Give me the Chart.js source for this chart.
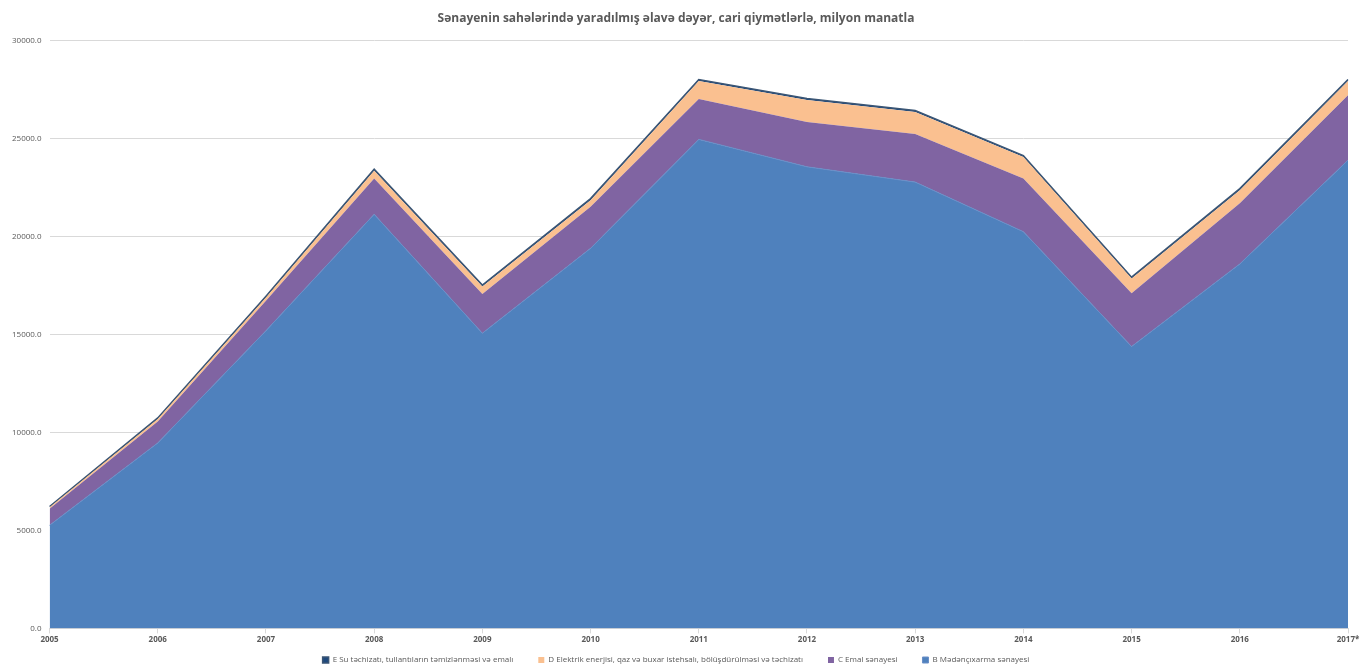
<!DOCTYPE html>
<html>
<head>
<meta charset="utf-8">
<script src="https://cdn.jsdelivr.net/npm/chart.js@4/dist/chart.umd.min.js"></script>
<style>
  html, body { margin: 0; padding: 0; background: #fff; }
  #wrap { width: 1368px; height: 668px; position: relative; }
</style>
</head>
<body>
<div id="wrap"><canvas id="chart-area"></canvas></div>
<script>
// illər
var illər = ["2005", "2006", "2007", "2008", "2009", "2010", "2011", "2012", "2013", "2014", "2015", "2016", "2017*"];

// sahələr üzrə əlavə dəyər, milyon manat
var madenciXarma = [5260, 9460, 15190, 21125, 15060, 19390, 24950, 23550, 22770, 20240, 14380, 18595, 23890];
var emalSenayesi = [850, 1100, 1530, 1835, 2005, 2120, 2060, 2290, 2450, 2720, 2720, 3095, 3310];
var elektrik = [70, 120, 160, 390, 375, 340, 920, 1120, 1130, 1090, 750, 670, 730];
var suTachizati = [40, 60, 70, 80, 80, 80, 70, 70, 70, 70, 70, 80, 80];

var adlar = [
  "B Mədənçıxarma sənayesi",
  "C Emal sənayesi",
  "D Elektrik enerjisi, qaz və buxar istehsalı, bölüşdürülməsi və təchizatı",
  "E Su təchizatı, tullantıların təmizlənməsi və emalı"
];

var boz = '#595959';
var fontAd = "'Open Sans', 'Noto Sans', sans-serif";

var ctx = document.getElementById("chart-area").getContext("2d");

var grafik = new Chart(ctx, {
  type: "line",
  data: {
    labels: illər,
    datasets: [{
      label: adlar[0],
      data: madenciXarma,
      backgroundColor: "#4F81BD",
      borderColor: "#6a8fc8",
      borderWidth: 1,
      pointRadius: 0,
      tension: 0,
      fill: 'origin'
    }, {
      label: adlar[1],
      data: emalSenayesi,
      backgroundColor: "#8064A2",
      borderColor: "#8064A2",
      borderWidth: 0,
      pointRadius: 0,
      tension: 0,
      fill: '-1'
    }, {
      label: adlar[2],
      data: elektrik,
      backgroundColor: "#FAC090",
      borderColor: "#FAC090",
      borderWidth: 0,
      pointRadius: 0,
      tension: 0,
      fill: '-1'
    }, {
      label: adlar[3],
      data: suTachizati,
      backgroundColor: "#1F497D",
      borderColor: "#3b5675",
      borderWidth: 1.5,
      pointRadius: 0,
      tension: 0,
      fill: '-1'
    }]
  },
  options: {
    responsive: true,
    maintainAspectRatio: false,
    animation: false,
    layout: {
      padding: { left: 4, right: 20, top: 4, bottom: 0 }
    },
    plugins: {
      title: {
        display: true,
        text: "Sənayenin sahələrində yaradılmış əlavə dəyər, cari qiymətlərlə, milyon manatla",
        color: boz,
        font: { family: fontAd, size: 12, weight: 'bold' },
        padding: { top: 7, bottom: 15 }
      },
      legend: {
        display: true,
        position: 'bottom',
        reverse: true,
        maxHeight: 21,
        labels: {
          boxWidth: 6,
          boxHeight: 6,
          padding: 9,
          color: boz,
          font: { family: fontAd, size: 8 },
          // elementlər arasında boşluq üçün sona boşluq əlavə olunur
          generateLabels: function (chart) {
            var items = Chart.defaults.plugins.legend.labels.generateLabels(chart);
            items.forEach(function (it, i) {
              if (it.datasetIndex !== 0) it.text = it.text + '\u2003\u2003';
            });
            return items;
          }
        }
      },
      tooltip: { enabled: false }
    },
    scales: {
      x: {
        offset: false,
        grid: {
          display: true,
          drawOnChartArea: false,
          drawTicks: true,
          tickLength: 5,
          color: '#d9d9d9'
        },
        border: { color: '#d9d9d9' },
        ticks: {
          color: boz,
          padding: 2,
          maxRotation: 0,
          autoSkip: false,
          font: { family: fontAd, size: 8, weight: 'bold' }
        }
      },
      y: {
        stacked: true,
        min: 0,
        max: 30000,
        grid: {
          color: '#d9d9d9',
          drawTicks: false
        },
        border: { display: false },
        ticks: {
          stepSize: 5000,
          padding: 8,
          color: boz,
          font: { family: fontAd, size: 8 },
          callback: function (v) { return Number(v).toFixed(1); }
        }
      }
    }
  }
});
</script>
</body>
</html>
